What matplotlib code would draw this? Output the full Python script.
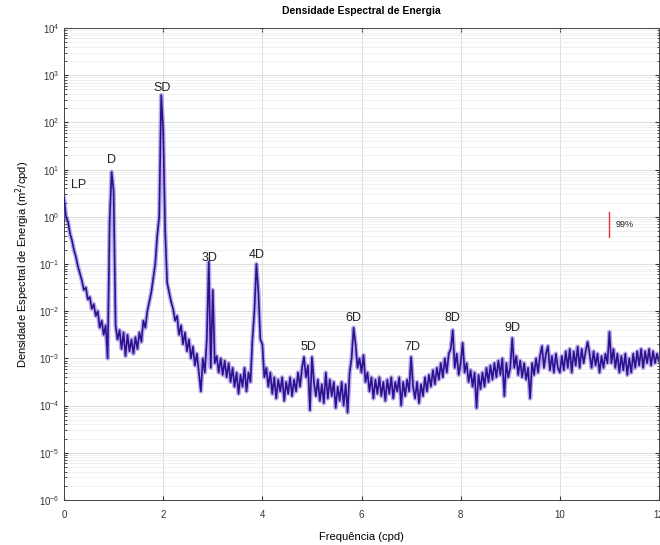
import numpy as np
import matplotlib
matplotlib.use("Agg")
import matplotlib.pyplot as plt
from matplotlib.ticker import LogLocator, NullFormatter

plt.rcParams['font.family'] = ['Liberation Sans', 'DejaVu Sans']

# frequency grid (cpd), one value every 0.04 cpd from 0 to 12
freq = np.round(np.arange(0, 12.0001, 0.04), 2)

# log10 of spectral density, one row per cpd
log_psd = [
    # 0.00 - 0.96
    0.4, 0.0, -0.1, -0.35, -0.5, -0.7, -0.85, -1.05, -1.2, -1.35, -1.55, -1.5, -1.75,
    -1.7, -1.95, -1.85, -2.1, -2.0, -2.35, -2.2, -2.5, -2.3, -3.0, -0.1, 0.95,
    # 1.00 - 1.96
    0.55, -2.3, -2.6, -2.4, -2.8, -2.45, -2.95, -2.5, -2.85, -2.6, -2.9, -2.55, -2.8,
    -2.45, -2.65, -2.2, -2.35, -2.0, -1.8, -1.6, -1.3, -1.0, -0.4, 0.0, 2.58,
    # 2.00 - 2.96
    1.84, -0.3, -1.4, -1.6, -1.8, -1.95, -2.2, -2.1, -2.5, -2.3, -2.7, -2.45, -2.85,
    -2.6, -3.0, -2.75, -3.15, -2.9, -3.3, -3.7, -3.0, -3.3, -2.6, -0.95, -3.2,
    # 3.00 - 3.96
    -1.55, -3.1, -2.95, -3.3, -3.0, -3.35, -3.05, -3.4, -3.1, -3.5, -3.2, -3.6, -3.3,
    -3.75, -3.35, -3.6, -3.2, -3.7, -3.3, -3.5, -2.6, -2.0, -1.0, -1.6, -2.6,
    # 4.00 - 4.96
    -2.7, -3.4, -3.2, -3.6, -3.3, -3.75, -3.4, -3.85, -3.45, -3.7, -3.4, -3.9, -3.5,
    -3.75, -3.4, -3.8, -3.45, -3.7, -3.3, -3.6, -3.2, -2.97, -3.4, -3.15, -4.1,
    # 5.00 - 5.96
    -2.97, -3.5, -3.8, -3.45, -3.9, -3.55, -3.95, -3.3, -3.85, -3.45, -3.8, -3.5, -4.05,
    -3.6, -3.9, -3.5, -4.0, -3.55, -4.15, -3.3, -3.0, -2.35, -2.7, -3.2, -3.0,
    # 6.00 - 6.96
    -3.3, -2.93, -3.5, -3.3, -3.7, -3.4, -3.85, -3.45, -3.75, -3.4, -3.8, -3.5, -3.9,
    -3.45, -3.75, -3.4, -3.85, -3.5, -3.7, -3.4, -4.0, -3.5, -3.8, -3.45, -3.7,
    # 7.00 - 7.96
    -2.97, -3.6, -3.85, -3.5, -3.95, -3.55, -3.8, -3.4, -3.7, -3.35, -3.6, -3.25, -3.55,
    -3.2, -3.45, -3.1, -3.4, -3.0, -3.3, -2.9, -2.8, -2.4, -3.2, -2.9, -3.35,
    # 8.00 - 8.96
    -3.1, -2.67, -3.3, -3.1, -3.5, -3.25, -3.6, -3.3, -4.05, -3.35, -3.65, -3.3, -3.6,
    -3.2, -3.5, -3.15, -3.45, -3.1, -3.4, -3.05, -3.35, -3.0, -3.8, -3.1, -3.4,
    # 9.00 - 9.96
    -3.2, -2.57, -3.2, -2.95, -3.35, -3.05, -3.4, -3.1, -3.45, -3.2, -3.85, -3.1, -3.35,
    -3.0, -3.3, -2.95, -2.74, -3.2, -2.9, -2.74, -3.25, -2.95, -3.3, -2.9, -3.2,
    # 10.00 - 10.96
    -3.3, -2.95, -3.25, -2.85, -3.2, -2.8, -3.3, -2.85, -3.15, -2.75, -3.2, -2.8, -3.1,
    -2.85, -2.65, -2.9, -3.2, -2.85, -3.15, -2.9, -3.3, -2.95, -3.2, -2.9, -3.1,
    # 11.00 - 12.00
    -2.44, -3.1, -2.8, -3.2, -2.9, -3.3, -2.95, -3.25, -2.9, -3.35, -3.0, -3.3, -2.9,
    -3.2, -2.85, -3.15, -2.8, -3.2, -2.85, -3.1, -2.8, -3.15, -2.85, -3.1, -2.9, -3.05,
]
psd = 10.0 ** np.array(log_psd)

# peak labels: (text, frequency, density)
peak_names = ["LP", "D", "SD", "3D", "4D", "5D", "6D", "7D", "8D", "9D"]
peak_freq = [0.3, 0.95, 1.98, 2.94, 3.88, 4.92, 5.83, 7.02, 7.83, 9.04]
peak_val = [4.7, 15.8, 540, 0.135, 0.155, 1.75e-3, 7.2e-3, 1.75e-3, 7.2e-3, 4.4e-3]

# 99% confidence bar
ci_freq = 11.0
ci_low, ci_high = 0.37, 1.26

xticks = [0, 2, 4, 6, 8, 10, 12]

fig = plt.figure(figsize=(6.6, 5.45), dpi=100)
ax = fig.add_axes([0.097, 0.0826, 0.9015, 0.866])

ax.plot(freq, psd, color='#7a5cd8', lw=3.2, alpha=0.5, zorder=3)
ax.plot(freq, psd, color='#2e1190', lw=1.2, zorder=4)

ax.set_yscale('log')
ax.set_xlim(0, 12)
ax.set_ylim(1e-6, 1e4)
ax.set_xticks(xticks)
ax.set_xticklabels([str(t) for t in xticks])
ax.yaxis.set_major_locator(LogLocator(base=10, numticks=20))
ax.yaxis.set_minor_locator(LogLocator(base=10, subs=np.arange(2, 10), numticks=200))
ax.yaxis.set_minor_formatter(NullFormatter())

ax.grid(True, which='major', color='#d8d8d8', lw=0.6)
ax.grid(True, which='minor', axis='y', color='#ececec', lw=0.5)
ax.set_axisbelow(True)

ax.tick_params(which='both', direction='in', top=True, right=True,
               labelsize=7, colors='#333333', length=3)
ax.tick_params(axis='x', pad=7)
ax.tick_params(which='minor', length=1.8)
for s in ax.spines.values():
    s.set_color('#444444')
    s.set_linewidth(0.7)

for name, f, v in zip(peak_names, peak_freq, peak_val):
    ax.text(f, v, name, ha='center', va='center', fontsize=9, color='#222222', zorder=5)

ax.plot([ci_freq, ci_freq], [ci_low, ci_high], color='#e0303a', lw=1.0, zorder=5)
ax.text(ci_freq + 0.12, np.sqrt(ci_low * ci_high), '99%', fontsize=6.5,
        va='center', ha='left', color='#222222')

ax.set_title('Densidade Espectral de Energia', fontsize=7.5, fontweight='bold', pad=10)
ax.set_xlabel('Frequência (cpd)', fontsize=8, labelpad=9)
ax.set_ylabel('Densidade Espectral de Energia (m$^2$/cpd)', fontsize=8, labelpad=5)

fig.savefig('out.png', dpi=100)
